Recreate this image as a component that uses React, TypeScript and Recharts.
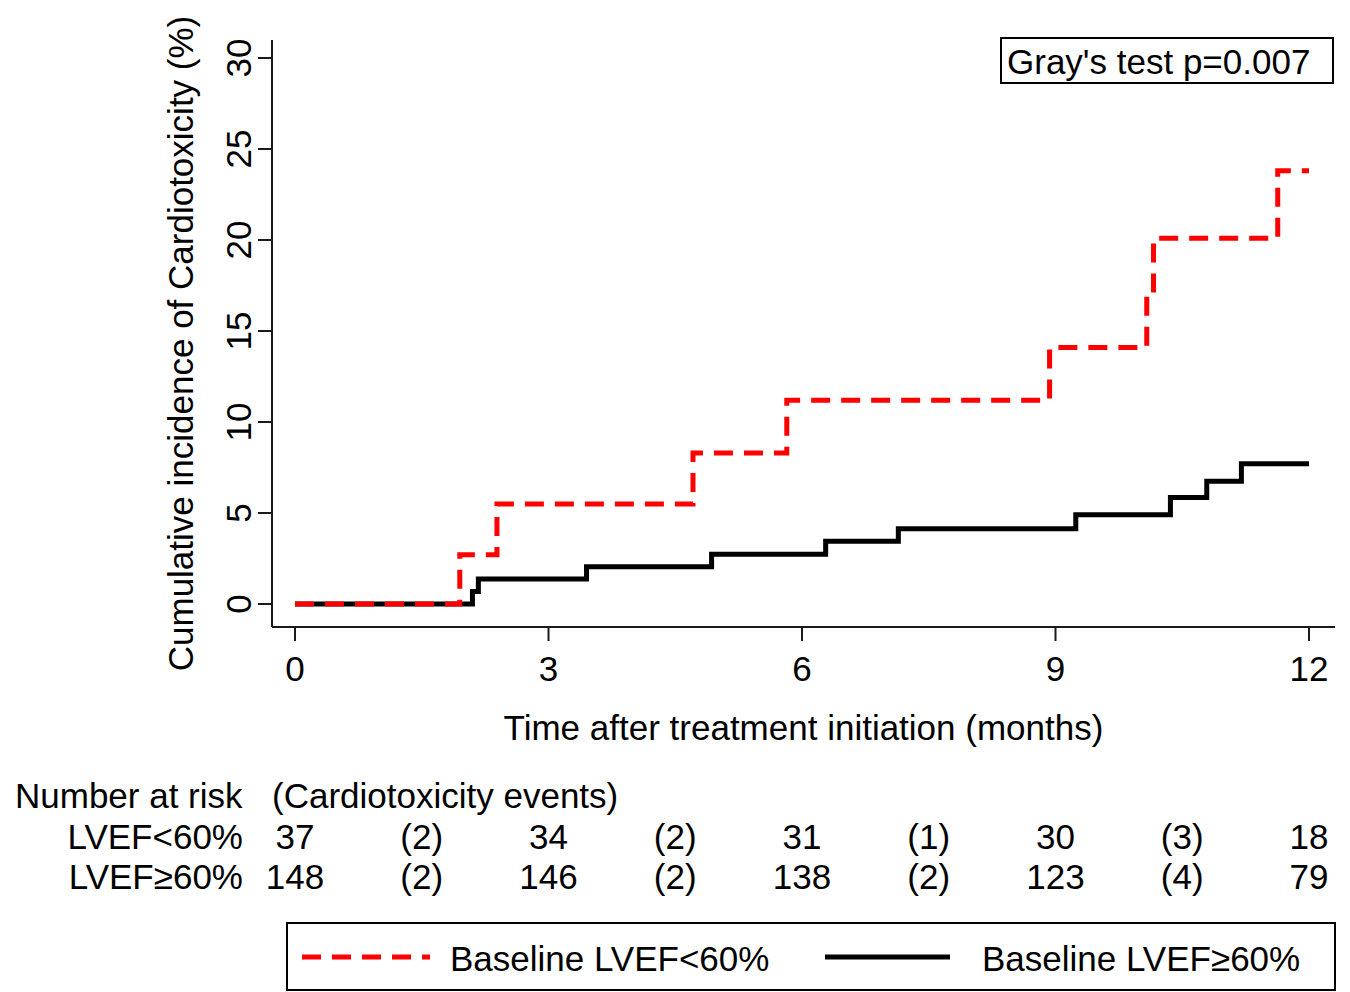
import React from 'react';
import { LineChart, Line, XAxis, YAxis, Label } from 'recharts';

const FONT = '"Liberation Sans", Arial, Helvetica, sans-serif';

// Step-function data (months, cumulative incidence %)
const lowTimes = [0, 1.95, 2.39, 4.71, 5.82, 8.93, 10.08, 10.16, 11.63, 12];
const lowValues = [0, 2.7, 5.5, 8.3, 11.2, 14.1, 17.0, 20.1, 23.8, 23.8];
const highTimes = [0, 2.1, 2.17, 3.45, 4.93, 6.28, 7.14, 9.24, 10.36, 10.79, 11.2, 12];
const highValues = [0, 0.68, 1.37, 2.05, 2.74, 3.45, 4.14, 4.9, 5.85, 6.75, 7.7, 7.7];

const xTicks = [0, 3, 6, 9, 12];
const yTicks = [0, 5, 10, 15, 20, 25, 30];
const riskTicks = [0, 1.5, 3, 4.5, 6, 7.5, 9, 10.5, 12];

const riskLowN = [37, 34, 31, 30, 18];
const eventsLow = [2, 2, 1, 3];
const riskHighN = [148, 146, 138, 123, 79];
const eventsHigh = [2, 2, 2, 4];

const seriesLow = { name: 'Baseline LVEF<60%', row: 'LVEF<60%', color: '#FF0000', dash: '19 11' };
const seriesHigh = { name: 'Baseline LVEF≥60%', row: 'LVEF≥60%', color: '#000000', dash: undefined as string | undefined };

const pText = "Gray's test p=0.007";
const xTitle = 'Time after treatment initiation (months)';
const yTitle = 'Cumulative incidence of Cardiotoxicity (%)';

const lowData = lowTimes.map((t, i) => ({ t, v: lowValues[i] }));
const highData = highTimes.map((t, i) => ({ t, v: highValues[i] }));

function interleave(n: number[], e: number[]): string[] {
  const out: string[] = [];
  n.forEach((v, i) => {
    out.push(String(v));
    if (i < e.length) out.push(`(${e[i]})`);
  });
  return out;
}
const rowLow = interleave(riskLowN, eventsLow);
const rowHigh = interleave(riskHighN, eventsHigh);
const riskData = riskTicks.map((t, i) => ({ t, low: rowLow[i], high: rowHigh[i] }));

const FS = 35;

const XTick = (props: any) => {
  const { x, y, payload } = props;
  return (
    <text x={x} y={y + 25} textAnchor="middle" dominantBaseline="central" fontFamily={FONT} fontSize={FS} fill="#000">
      {payload.value}
    </text>
  );
};

const YTick = (props: any) => {
  const { x, y, payload } = props;
  const cx = x - 18;
  return (
    <text x={cx} y={y} textAnchor="middle" dominantBaseline="central" fontFamily={FONT} fontSize={FS} fill="#000" transform={`rotate(-90, ${cx}, ${y})`}>
      {payload.value}
    </text>
  );
};

const makeRiskTick = (labels: string[], dy: number) => (props: any) => {
  const { x, y, payload } = props;
  const idx = riskTicks.indexOf(payload.value);
  return (
    <text x={x} y={y + dy} textAnchor="middle" dominantBaseline="central" fontFamily={FONT} fontSize={FS} fill="#000">
      {labels[idx]}
    </text>
  );
};

const XTitle = (props: any) => {
  const vb = props.viewBox;
  return (
    <text x={vb.x + vb.width / 2} y={vb.y + 100} textAnchor="middle" dominantBaseline="central" fontFamily={FONT} fontSize={FS} fill="#000">
      {xTitle}
    </text>
  );
};

const YTitle = (props: any) => {
  const vb = props.viewBox;
  const cx = vb.x + 8;
  const cy = vb.y + vb.height / 2 + 10;
  return (
    <text x={cx} y={cy} textAnchor="middle" dominantBaseline="central" fontFamily={FONT} fontSize={FS} fill="#000" transform={`rotate(-90, ${cx}, ${cy})`}>
      {yTitle}
    </text>
  );
};

const axisStroke = '#1a1a1a';

export default function App() {
  return (
    <div style={{ position: 'absolute', left: 0, top: 0, width: 1350, height: 992, background: '#fff' }}>
      <LineChart width={1350} height={992} margin={{ top: 40, right: 15, bottom: 96, left: 172 }}>
        <XAxis
          xAxisId="main"
          dataKey="t"
          type="number"
          domain={[0, 12]}
          ticks={xTicks}
          interval={0}
          padding={{ left: 23, right: 26 }}
          height={120}
          tickSize={14}
          tickMargin={2}
          stroke={axisStroke}
          strokeWidth={2}
          tick={XTick}
        >
          <Label content={XTitle} />
        </XAxis>
        <XAxis
          xAxisId="r1"
          dataKey="t"
          type="number"
          domain={[0, 12]}
          allowDataOverflow
          ticks={riskTicks}
          interval={0}
          padding={{ left: 23, right: 26 }}
          height={109}
          tickSize={0}
          tickMargin={0}
          axisLine={false}
          tickLine={false}
          tick={makeRiskTick(rowLow, 89)}
        />
        <XAxis
          xAxisId="r2"
          dataKey="t"
          type="number"
          domain={[0, 12]}
          allowDataOverflow
          ticks={riskTicks}
          interval={0}
          padding={{ left: 23, right: 26 }}
          height={40}
          tickSize={0}
          tickMargin={0}
          axisLine={false}
          tickLine={false}
          tick={makeRiskTick(rowHigh, 20)}
        />
        <YAxis
          yAxisId="y"
          type="number"
          domain={[0, 30]}
          ticks={yTicks}
          interval={0}
          padding={{ top: 18, bottom: 23 }}
          width={100}
          tickSize={14}
          tickMargin={2}
          stroke={axisStroke}
          strokeWidth={2}
          tick={YTick}
        >
          <Label content={YTitle} />
        </YAxis>
        <Line xAxisId="r1" yAxisId="y" data={riskData} dataKey={() => 0} stroke="none" dot={false} activeDot={false} isAnimationActive={false} legendType="none" />
        <Line xAxisId="r2" yAxisId="y" data={riskData} dataKey={() => 0} stroke="none" dot={false} activeDot={false} isAnimationActive={false} legendType="none" />
        <Line
          xAxisId="main"
          yAxisId="y"
          data={highData}
          dataKey="v"
          type="stepAfter"
          stroke={seriesHigh.color}
          strokeWidth={5}
          dot={false}
          activeDot={false}
          isAnimationActive={false}
          name={seriesHigh.name}
        />
        <Line
          xAxisId="main"
          yAxisId="y"
          data={lowData}
          dataKey="v"
          type="stepAfter"
          stroke={seriesLow.color}
          strokeWidth={5}
          strokeDasharray={seriesLow.dash}
          dot={false}
          activeDot={false}
          isAnimationActive={false}
          name={seriesLow.name}
        />
      </LineChart>
      <svg width={1350} height={992} style={{ position: 'absolute', left: 0, top: 0, pointerEvents: 'none' }}>
        <g fontFamily={FONT} fontSize={FS} fill="#000">
          <rect x={1001} y={38} width={332} height={45} fill="#fff" stroke="#000" strokeWidth={2} />
          <text x={1007} y={61} dominantBaseline="central">{pText}</text>

          <text x={15} y={795} dominantBaseline="central">Number at risk</text>
          <text x={272} y={795} dominantBaseline="central">(Cardiotoxicity events)</text>
          <text x={243} y={836} textAnchor="end" dominantBaseline="central">{seriesLow.row}</text>
          <text x={243} y={876} textAnchor="end" dominantBaseline="central">{seriesHigh.row}</text>

          <rect x={287} y={923} width={1048} height={67} fill="#fff" stroke="#000" strokeWidth={2} />
          <line x1={302} y1={957} x2={430} y2={957} stroke={seriesLow.color} strokeWidth={5} strokeDasharray={seriesLow.dash} />
          <text x={450} y={958} dominantBaseline="central">{seriesLow.name}</text>
          <line x1={825} y1={957} x2={950} y2={957} stroke={seriesHigh.color} strokeWidth={5} />
          <text x={982} y={958} dominantBaseline="central">{seriesHigh.name}</text>
        </g>
      </svg>
    </div>
  );
}
